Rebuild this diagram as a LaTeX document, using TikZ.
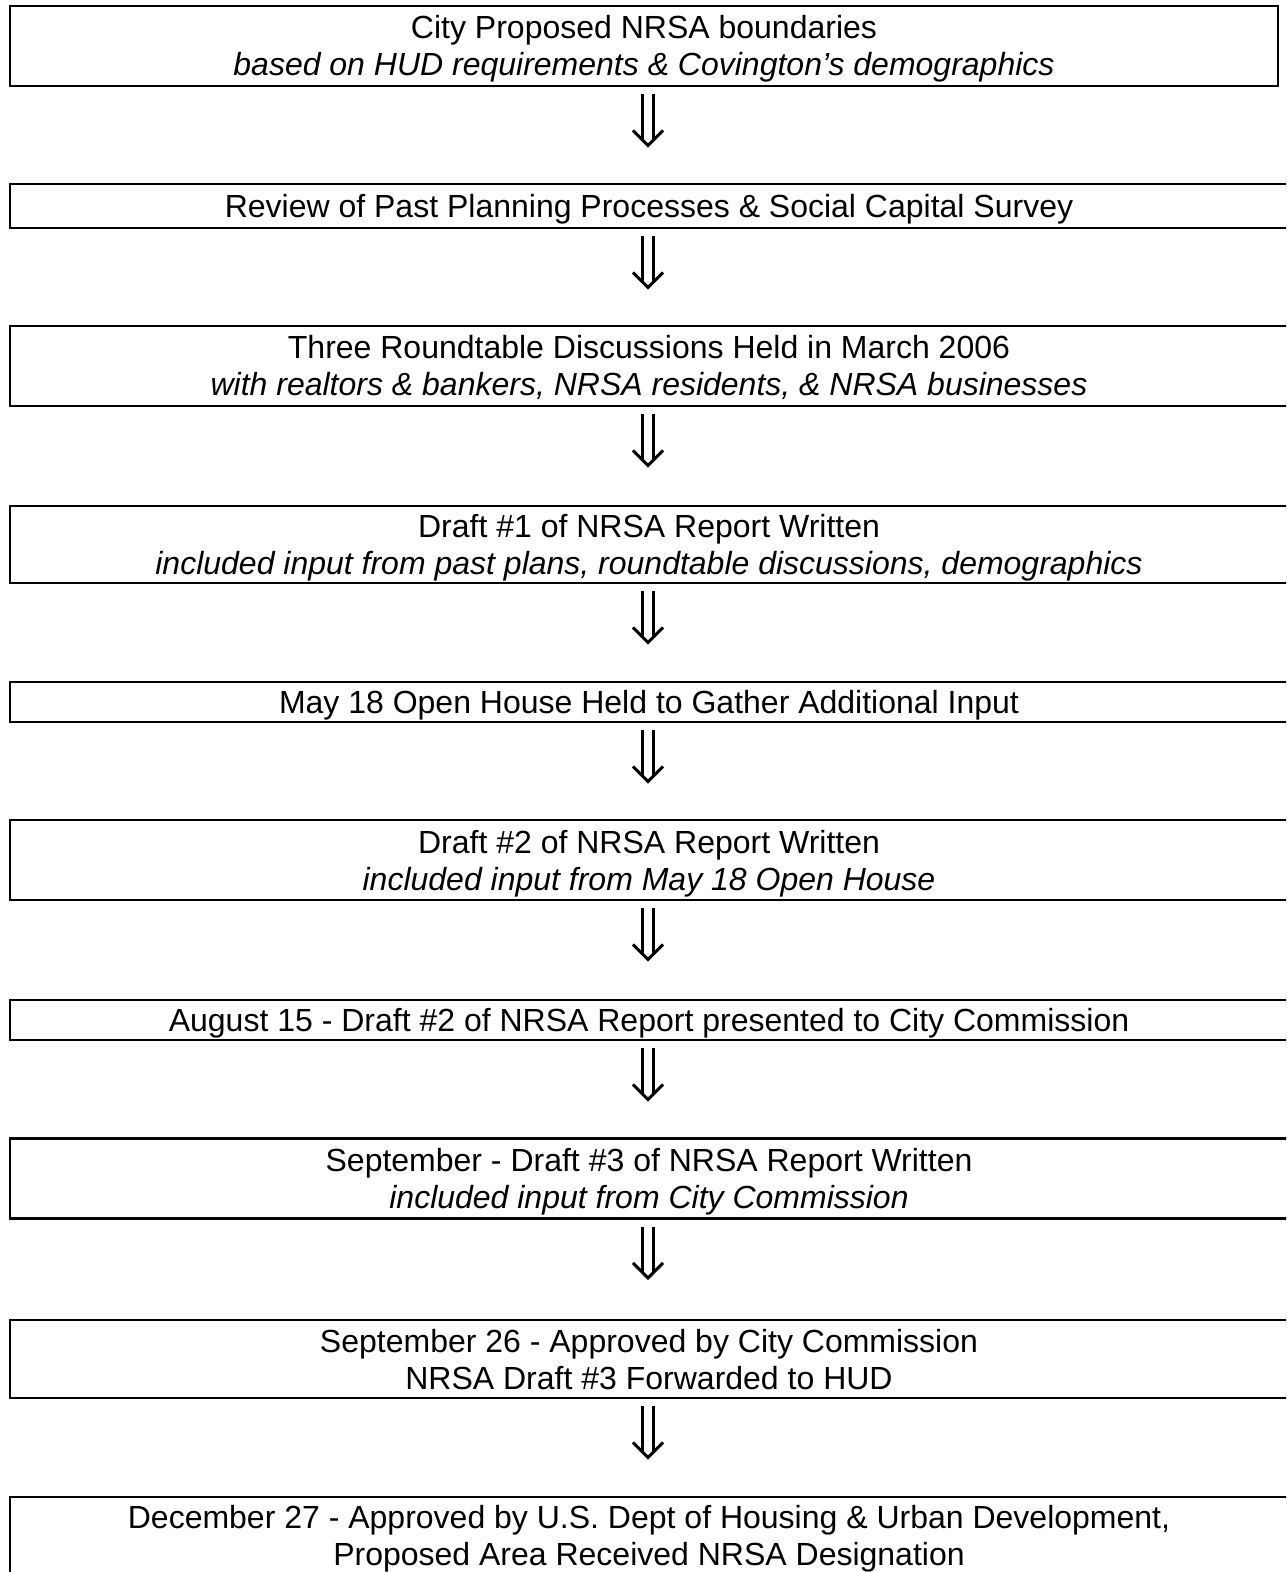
\documentclass[tikz,border=0pt]{standalone}
\usepackage{fontspec}
\setmainfont{Liberation Sans}
\usetikzlibrary{calc}
\newcommand\ls{\rule[-3.5pt]{0pt}{18.5pt}}
\newcommand\lsd{\rule[-5pt]{0pt}{0pt}}
\tikzset{
  box/.style={draw, line width=1.4pt, rectangle, inner sep=0pt, align=center,
    font=\fontsize{16pt}{18.5pt}\selectfont},
  wide/.style={box, minimum width=639pt},
  tall/.style={minimum height=40pt},
  dblarrow/.pic={
    \draw[line width=1.5pt] (-5.75,0) -- (-5.75,45.5) (5.75,0) -- (5.75,45.5);
    \draw[line width=1.5pt, line join=miter, line cap=butt] (-15,36) -- (0,51) -- (15,36);
  }
}
\begin{document}
\begin{tikzpicture}[x=0.5pt, y=-0.5pt]
\useasboundingbox (0,0) rectangle (1286,1572);
\clip (0,0) rectangle (1286,1572);
\coordinate (axis) at (648,0);
\node[box, minimum width=634pt, tall] (b1) at (644,46)
  {\ls City Proposed NRSA boundaries\\\ls\textit{based on HUD requirements \& Covington’s demographics}};
\node[wide, minimum height=22pt] (b2) at (649,206)
  {\ls Review of Past Planning Processes \& Social Capital Survey};
\node[wide, tall] (b3) at (649,366)
  {\ls Three Roundtable Discussions Held in March 2006\\\ls\textit{with realtors \& bankers, NRSA residents, \& NRSA businesses}};
\node[wide, minimum height=38.5pt] (b4) at (649,544.5)
  {\ls Draft \#1 of NRSA Report Written\\\ls\textit{included input from past plans, roundtable discussions, demographics}};
\node[wide, minimum height=20pt] (b5) at (649,702)
  {\ls May 18 Open House Held to Gather Additional Input};
\node[wide, tall] (b6) at (649,860)
  {\ls Draft \#2 of NRSA Report Written\\\ls\textit{included input from May 18 Open House}};
\node[wide, minimum height=20pt] (b7) at (649,1020)
  {\ls August 15 - Draft \#2 of NRSA Report presented to City Commission};
\node[wide, tall] (b8) at (649,1178.5)
  {\ls September - Draft \#3 of NRSA Report Written\\\ls\textit{included input from City Commission}};
\node[wide, minimum height=39pt] (b9) at (649,1359)
  {\ls September 26 - Approved by City Commission\\\ls NRSA Draft \#3 Forwarded to HUD};
\node[wide, tall] (b10) at (649,1537)
  {\ls December 27 - Approved by U.S. Dept of Housing \& Urban Development,\\\ls Proposed Area Received NRSA Designation\lsd};
\foreach \n in {b1,b2,b3,b4,b5,b6,b7,b8,b9}
  \path ($(axis |- \n.south)+(0,7)$) pic {dblarrow};
\end{tikzpicture}
\end{document}
